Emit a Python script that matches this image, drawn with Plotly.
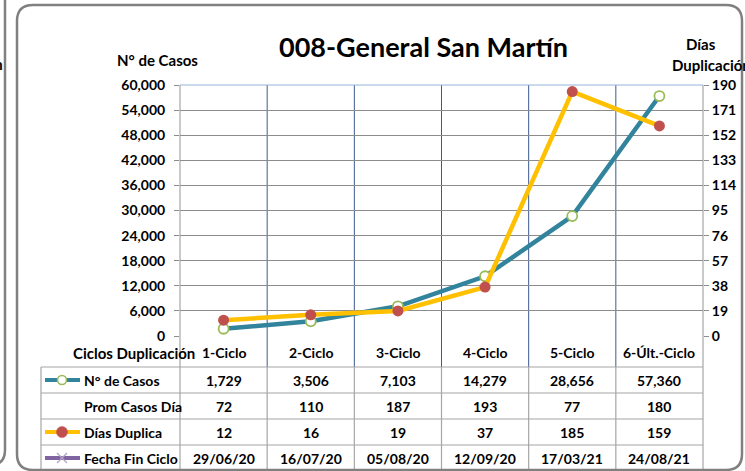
import plotly.graph_objects as go

# ---------------- data ----------------
categories = ["1-Ciclo", "2-Ciclo", "3-Ciclo", "4-Ciclo", "5-Ciclo", "6-Últ.-Ciclo"]
casos = [1729, 3506, 7103, 14279, 28656, 57360]
prom_casos_dia = [72, 110, 187, 193, 77, 180]
dias_duplica = [12, 16, 19, 37, 185, 159]
fecha_fin = ["29/06/20", "16/07/20", "05/08/20", "12/09/20", "17/03/21", "24/08/21"]
left_ticks = [0, 6000, 12000, 18000, 24000, 30000, 36000, 42000, 48000, 54000, 60000]
right_ticks = [0, 19, 38, 57, 76, 95, 114, 133, 152, 171, 190]
row_labels = ["N° de Casos", "Prom Casos Día", "Días Duplica", "Fecha Fin Ciclo"]

# ---------------- layout geometry (pixels) ----------------
W, H = 745, 471
PL, PR, PT, PB = 180, 703, 85, 336

def px(x):
    return (x - PL) / (PR - PL)

def py(y):
    return (PB - y) / (PB - PT)

FONT = "Lato, Carlito, Calibri, sans-serif"
TEAL = "#31849b"
YELLOW = "#ffc000"
RED = "#c0504d"
GREEN = "#9bbb59"
PURPLE = "#8064a2"
GRID_H = "#8c8c8c"
GRID_V = "#3b5b8f"
TABLE = "#a6a6a6"
FRAME = "#808080"

fig = go.Figure()

fig.add_trace(go.Scatter(
    x=categories, y=casos, mode="lines+markers", name="N° de Casos",
    line=dict(color=TEAL, width=4.5),
    marker=dict(size=10, color="white", line=dict(color=GREEN, width=1.8)),
    yaxis="y", xaxis="x", showlegend=False, cliponaxis=False))

fig.add_trace(go.Scatter(
    x=categories, y=dias_duplica, mode="lines+markers", name="Días Duplica",
    line=dict(color=YELLOW, width=4.5),
    marker=dict(size=11, color=RED),
    yaxis="y2", xaxis="x", showlegend=False, cliponaxis=False))

# table row centres (pixels)
row_y = [380, 406, 432, 458]

shapes = []
annotations = []

# legend icons inside the table
icon_x0, icon_x1, icon_xm = 45, 80, 62

def icon_line(yy, color):
    shapes.append(dict(type="line", xref="paper", yref="paper", x0=px(icon_x0), x1=px(icon_x1),
                       y0=py(yy), y1=py(yy), line=dict(color=color, width=4)))

def icon_circle(yy, rad, fill, edge, ew):
    shapes.append(dict(type="circle", xref="paper", yref="paper", xsizemode="pixel",
                       ysizemode="pixel", xanchor=px(icon_xm), yanchor=py(yy),
                       x0=-rad, x1=rad, y0=-rad, y1=rad, fillcolor=fill,
                       line=dict(color=edge, width=ew)))

icon_line(row_y[0], TEAL)
icon_circle(row_y[0], 4.5, "white", GREEN, 1.6)
icon_line(row_y[2], YELLOW)
icon_circle(row_y[2], 5.5, RED, RED, 0.5)
icon_line(row_y[3], PURPLE)
for s in (-1, 1):
    shapes.append(dict(type="line", xref="paper", yref="paper", xsizemode="pixel",
                       ysizemode="pixel", xanchor=px(icon_xm), yanchor=py(row_y[3]),
                       x0=-5, x1=5, y0=-5 * s, y1=5 * s,
                       line=dict(color="#b3a2c7", width=1.3)))

# vertical category separators in plot + header row
for i in range(1, len(categories)):
    shapes.append(dict(type="line", xref="x", yref="paper", x0=i - 0.5, x1=i - 0.5,
                       y0=1, y1=py(367), line=dict(color=GRID_V, width=1), layer="below"))
# top border of plot area (light blue)
shapes.append(dict(type="line", xref="paper", yref="paper", x0=0, x1=1, y0=1, y1=1,
                   line=dict(color="#95b3d7", width=1.2), layer="below"))
# left / right axis lines extending through the table
for xp in (PL, PR):
    shapes.append(dict(type="line", xref="paper", yref="paper", x0=px(xp), x1=px(xp),
                       y0=1, y1=py(H + 5), line=dict(color=TABLE, width=1.2), layer="below"))
# table horizontal lines
for yy in (367, 393, 419, 445, 471):
    shapes.append(dict(type="line", xref="paper", yref="paper", x0=px(41), x1=px(PR),
                       y0=py(yy), y1=py(yy), line=dict(color=TABLE, width=1.2)))
# table vertical lines
shapes.append(dict(type="line", xref="paper", yref="paper", x0=px(41), x1=px(41),
                   y0=py(367), y1=py(H + 5), line=dict(color=TABLE, width=1.2)))
for i in range(1, len(categories)):
    shapes.append(dict(type="line", xref="x", yref="paper", x0=i - 0.5, x1=i - 0.5,
                       y0=py(367), y1=py(H + 5), line=dict(color=TABLE, width=1.2)))

# outer rounded frame
def P(x, y):
    return f"{px(x):.5f},{py(y):.5f}"

r = 16
fx0, fy0, fx1, fy1 = 17, 5, 742, 470
frame = (f"M {P(fx0, fy1 - r)} L {P(fx0, fy0 + r)} Q {P(fx0, fy0)} {P(fx0 + r, fy0)} "
         f"L {P(fx1 - r, fy0)} Q {P(fx1, fy0)} {P(fx1, fy0 + r)} "
         f"L {P(fx1, fy1 - r)} Q {P(fx1, fy1)} {P(fx1 - r, fy1)} "
         f"L {P(fx0 + r, fy1)} Q {P(fx0, fy1)} {P(fx0, fy1 - r)}")
shapes.append(dict(type="path", xref="paper", yref="paper", path=frame,
                   line=dict(color=FRAME, width=2.5)))
# neighbouring panel edge on the far left
left_panel = f"M {P(5, -5)} L {P(5, 450)} Q {P(5, 465)} {P(-10, 465)}"
shapes.append(dict(type="path", xref="paper", yref="paper", path=left_panel,
                   line=dict(color=FRAME, width=2.5)))

def txt(x, y, text, size=14, xanchor="center", xref="paper", yref="paper"):
    annotations.append(dict(x=x, y=y, xref=xref, yref=yref, text=text, showarrow=False,
                            xanchor=xanchor, yanchor="middle",
                            font=dict(family=FONT, size=size, color="black", weight="bold")))

# title and axis titles
txt(px(423), py(47), "008-General San Martín", size=27)
txt(px(115), py(60), "N° de Casos", size=15, xanchor="left")
txt(px(701), py(44), "Días", size=15)
txt(px(670), py(65), "Duplicación", size=15, xanchor="left")
txt(px(5), py(64), "Duplicación", size=15, xanchor="right")

# header row
txt(px(134), py(353), "Ciclos Duplicación", size=15)
for c in categories:
    annotations.append(dict(x=c, y=py(352), xref="x", yref="paper", text=c, showarrow=False,
                            xanchor="center", yanchor="middle",
                            font=dict(family=FONT, size=14, color="black", weight="bold")))

# table rows
rows = [[f"{v:,}" for v in casos],
        [str(v) for v in prom_casos_dia],
        [str(v) for v in dias_duplica],
        fecha_fin]
for lbl, vals, yy in zip(row_labels, rows, row_y):
    txt(px(82), py(yy), lbl, size=14, xanchor="left")
    for c, v in zip(categories, vals):
        annotations.append(dict(x=c, y=py(yy), xref="x", yref="paper", text=v, showarrow=False,
                                xanchor="center", yanchor="middle",
                                font=dict(family=FONT, size=14, color="black", weight="bold")))

tickfont = dict(family=FONT, size=14, color="black", weight="bold")

fig.update_layout(
    width=W, height=H,
    margin=dict(l=PL, r=W - PR, t=PT, b=H - PB, pad=0, autoexpand=False),
    paper_bgcolor="white", plot_bgcolor="white",
    showlegend=False,
    xaxis=dict(type="category", categoryorder="array", categoryarray=categories,
               range=[-0.5, 5.5], showticklabels=False, showgrid=False,
               zeroline=False, showline=False, ticks="", automargin=False),
    yaxis=dict(range=[0, 60000], tickvals=left_ticks,
               ticktext=[f"{v:,}" for v in left_ticks],
               showgrid=True, gridcolor=GRID_H, gridwidth=1, zeroline=False,
               showline=False, ticks="outside", ticklen=5, tickcolor=GRID_H,
               tickfont=tickfont, ticklabelstandoff=6, automargin=False),
    yaxis2=dict(range=[0, 190], tickvals=right_ticks, overlaying="y", side="right",
                showgrid=False, zeroline=False, showline=False, ticks="outside",
                ticklen=5, tickcolor=GRID_H, tickfont=tickfont, ticklabelstandoff=0,
                automargin=False),
    shapes=shapes,
    annotations=annotations,
)

fig.write_html("out.html", config={"displayModeBar": False},
               post_script="document.body.style.margin='0';document.body.style.overflow='hidden';")
